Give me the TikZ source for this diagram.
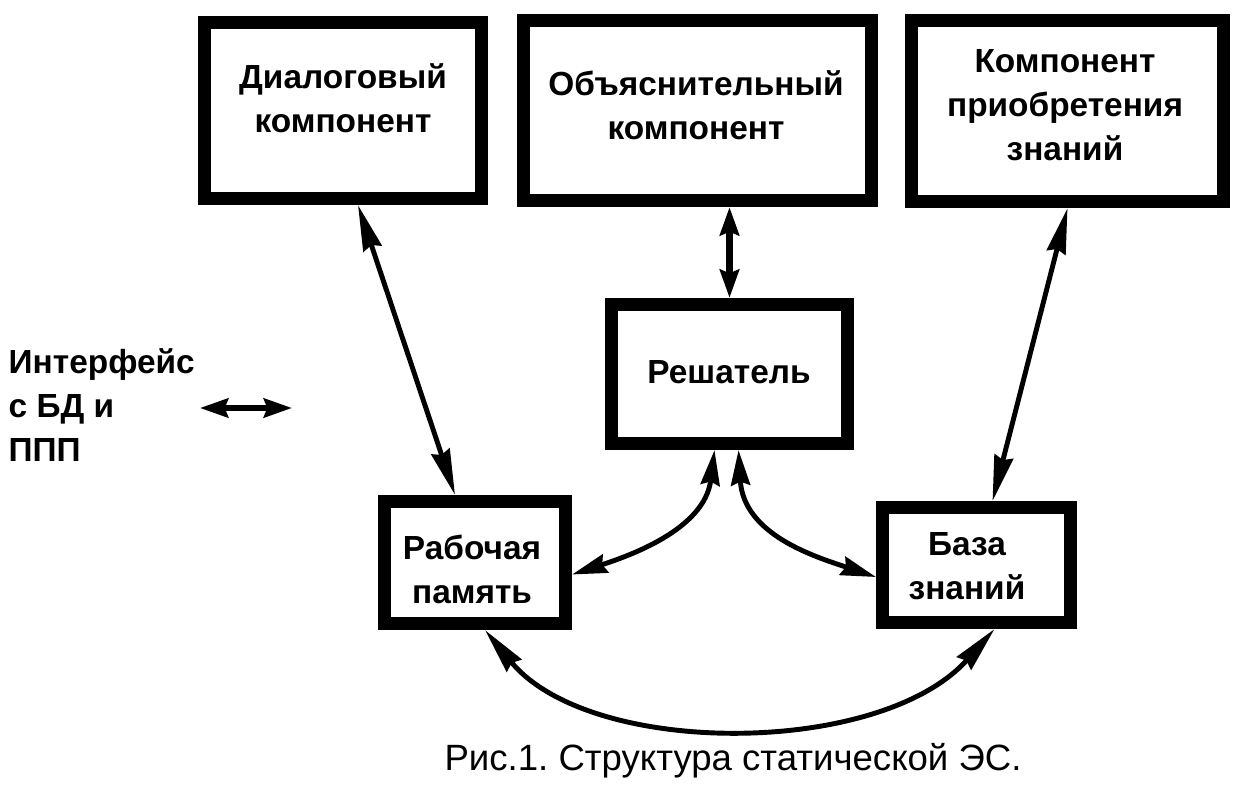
\documentclass[tikz,border=0pt]{standalone}
\usepackage{fontspec}
\setmainfont{Liberation Sans}
\usetikzlibrary{arrows.meta}
\frenchspacing

\begin{document}
\begin{tikzpicture}[x=0.01cm,y=-0.01cm,
		blk/.style={draw,line width=3.7pt,inner sep=0pt},
		lbl/.style={font=\fontsize{9.5pt}{12.5pt}\selectfont\bfseries,align=center,inner sep=0pt},
		lnk/.style={<->,line width=1.4pt,>={Stealth[length=#1,width=5.4pt,inset=1pt]}},
		lnk/.default=13pt]
		\useasboundingbox (0,0) rectangle (1252,788);
		\node[blk,minimum width=2.77cm,minimum height=1.76cm](dlg) at (343,110.5) {};
		\node[blk,minimum width=3.48cm,minimum height=1.80cm](obj) at (697.5,110.5) {};
		\node[blk,minimum width=3.12cm,minimum height=1.81cm](acq) at (1067.5,111) {};
		\node[blk,minimum width=2.36cm,minimum height=1.39cm](slv) at (729.5,374) {};
		\node[blk,minimum width=1.81cm,minimum height=1.22cm](wm) at (475,562.5) {};
		\node[blk,minimum width=1.88cm,minimum height=1.15cm](kb) at (976.5,565) {};
		\node[lbl](dlgtxt) at (343,98) {Диалоговый\\компонент};
		\node[lbl](objtxt) at (696,105) {Объяснительный\\компонент};
		\node[lbl](acqtxt) at (1065,105) {Компонент\\приобретения\\знаний};
		\node[lbl,anchor=base](slvtxt) at (729,383) {Решатель};
		\node[lbl](wmtxt) at (472,569) {Рабочая\\память};
		\node[lbl](kbtxt) at (967,566) {База\\знаний};
		\node[lbl,anchor=west,align=left](ifc) at (8,405) {Интерфейс\\с БД и\\ППП};
		\node[font=\fontsize{10.4pt}{12pt}\selectfont,anchor=base,inner sep=0pt](cap) at (733,770) {Рис.1. Структура статической ЭС.};
		\draw[lnk] ([shift={(15,0)}]dlg.south) -- ([shift={(-20,0)}]wm.north);
		\draw[lnk] (acq.south) -- ([shift={(16,0)}]kb.north);
		\draw[lnk=8pt,line width=2pt] (slv.north |- obj.south) -- (slv.north);
		\draw[lnk=10pt] ([shift={(-15,0)}]slv.south) .. controls +(-10,80) and +(55,-18) .. ([shift={(0,12)}]wm.east);
		\draw[lnk=10pt] ([shift={(9,0)}]slv.south) .. controls +(5,85) and +(-60,-20) .. ([shift={(0,12)}]kb.west);
		\draw[lnk] ([shift={(10,0)}]wm.south) .. controls +(105,128) and +(-114,128) .. ([shift={(18,0)}]kb.south);
		\coordinate (ifl) at (200,408);
		\coordinate (ifr) at (292,408);
		\draw[lnk=8pt,line width=1.6pt] (ifl) -- (ifr);
	\end{tikzpicture}
\end{document}
